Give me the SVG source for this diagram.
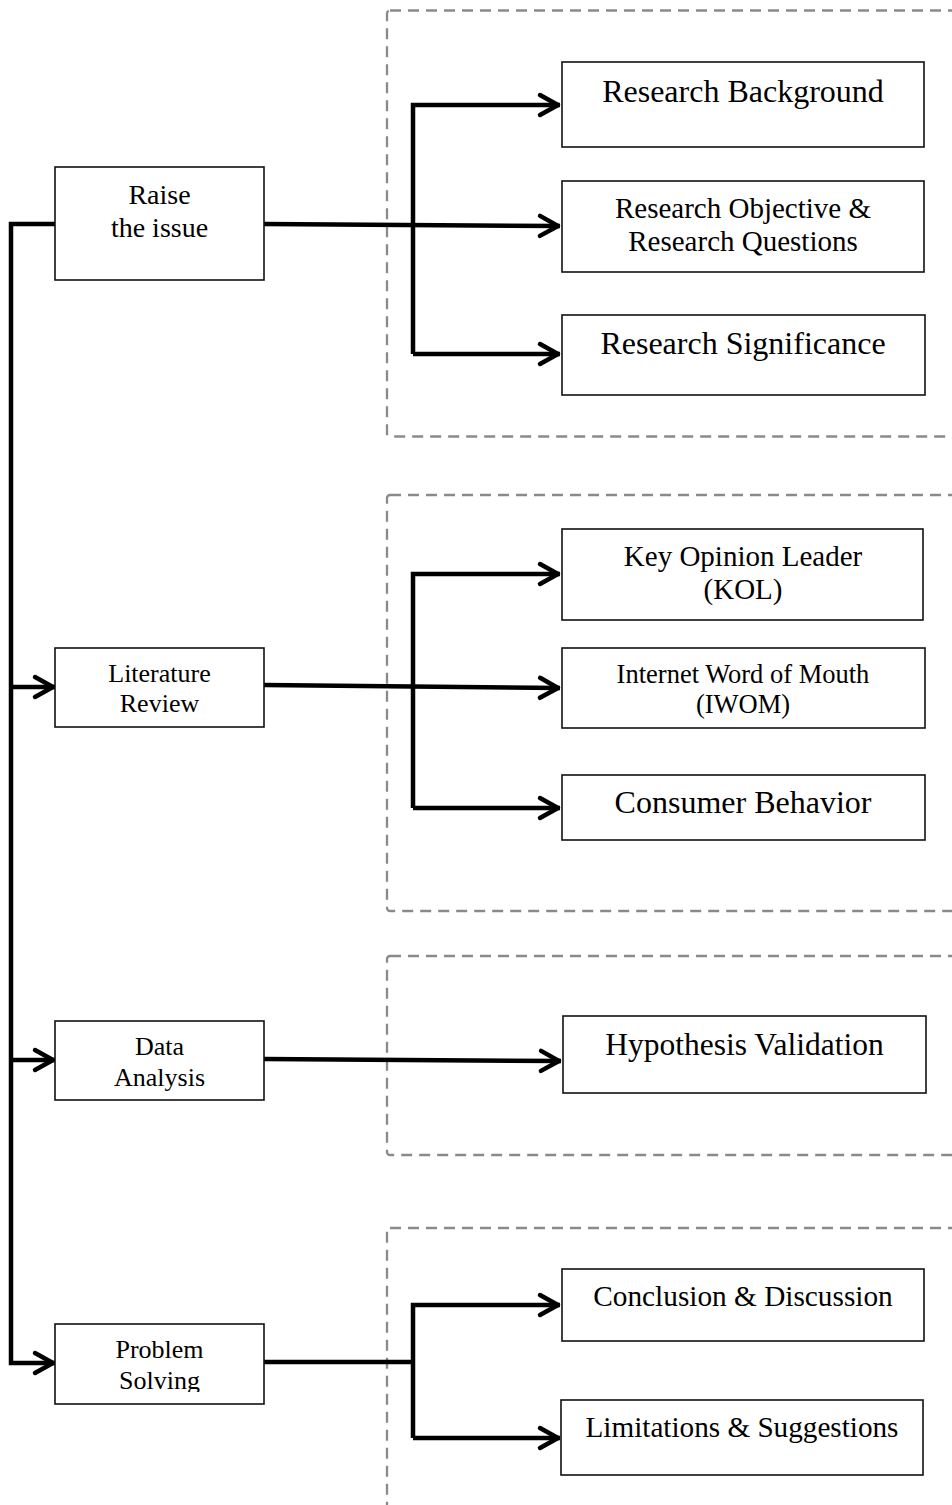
<svg xmlns="http://www.w3.org/2000/svg" width="952" height="1505" viewBox="0 0 952 1505">
<style>
.grp{fill:none;stroke:#8a8a8a;stroke-width:2.3;stroke-dasharray:11 7}
.box{fill:#fff;stroke:#111;stroke-width:1.6}
.con{fill:none;stroke:#000;stroke-width:4.5;stroke-linecap:butt;stroke-linejoin:miter}
.arr{marker-end:url(#chev)}
text{font-family:"Liberation Serif","Times New Roman",serif;fill:#000;text-anchor:middle}
</style>
<defs>
<marker id="chev" markerUnits="userSpaceOnUse" viewBox="-24 -14 28 28" refX="0" refY="0" markerWidth="28" markerHeight="28" orient="auto" overflow="visible">
<path d="M-20,-10 L-2,0 L-20,10" fill="none" stroke="#000" stroke-width="4.5" stroke-linecap="round" stroke-linejoin="round"/>
</marker>
<clipPath id="clipPS"><rect x="55" y="1324" width="209" height="68"/></clipPath>
</defs>

<g id="groups">
<rect class="grp" x="387" y="10.5" width="600" height="426" rx="3"/>
<rect class="grp" x="387" y="495" width="600" height="416" rx="3"/>
<rect class="grp" x="387" y="956" width="600" height="199" rx="3"/>
<rect class="grp" x="387" y="1228" width="600" height="320" rx="3"/>
</g>

<g id="connectors">
<path class="con arr" d="M55,224 H11 V1363 H55"/>
<path class="con arr" d="M11,687 H55"/>
<path class="con arr" d="M11,1060 H55"/>

<path class="con arr" d="M264,224 L560,226"/>
<path class="con arr" d="M413,354 V105 H560"/>
<path class="con arr" d="M413,354 H560"/>

<path class="con arr" d="M264,685 L560,688"/>
<path class="con arr" d="M413,808 V574 H560"/>
<path class="con arr" d="M413,808 H560"/>

<path class="con arr" d="M264,1059 L561,1061"/>

<path class="con" d="M264,1362 H413"/>
<path class="con arr" d="M413,1438 V1305 H560"/>
<path class="con arr" d="M413,1438 H560"/>
</g>

<g id="raise">
<rect class="box" x="55" y="167" width="209" height="113"/>
<text x="159.5" y="204" font-size="28">Raise</text>
<text x="159.5" y="237" font-size="28">the issue</text>
</g>
<g id="literature">
<rect class="box" x="55" y="648" width="209" height="79"/>
<text x="159.5" y="682" font-size="26">Literature</text>
<text x="159.5" y="712" font-size="26">Review</text>
</g>
<g id="data">
<rect class="box" x="55" y="1021" width="209" height="79"/>
<text x="159.5" y="1055" font-size="26">Data</text>
<text x="159.5" y="1086" font-size="26">Analysis</text>
</g>
<g id="problem">
<rect class="box" x="55" y="1324" width="209" height="80"/>
<g clip-path="url(#clipPS)">
<text x="159.5" y="1358" font-size="26">Problem</text>
<text x="159.5" y="1389" font-size="26">Solving</text>
</g>
</g>

<g id="background">
<rect class="box" x="562" y="62" width="362" height="85"/>
<text x="743" y="102" font-size="32">Research Background</text>
</g>
<g id="objective">
<rect class="box" x="562" y="181" width="362" height="91"/>
<text x="743" y="218" font-size="29">Research Objective &amp;</text>
<text x="743" y="251" font-size="29">Research Questions</text>
</g>
<g id="significance">
<rect class="box" x="562" y="315" width="363" height="80"/>
<text x="743" y="354" font-size="32">Research Significance</text>
</g>

<g id="kol">
<rect class="box" x="562" y="529" width="361" height="91"/>
<text x="743" y="566" font-size="29">Key Opinion Leader</text>
<text x="743" y="599" font-size="29">(KOL)</text>
</g>
<g id="iwom">
<rect class="box" x="562" y="648" width="363" height="80"/>
<text x="743" y="683" font-size="26.5">Internet Word of Mouth</text>
<text x="743" y="713" font-size="26.5">(IWOM)</text>
</g>
<g id="consumer">
<rect class="box" x="562" y="775" width="363" height="65"/>
<text x="743" y="813" font-size="32">Consumer Behavior</text>
</g>

<g id="hypothesis">
<rect class="box" x="563" y="1016" width="363" height="77"/>
<text x="744.5" y="1055" font-size="31.5">Hypothesis Validation</text>
</g>

<g id="conclusion">
<rect class="box" x="562" y="1269" width="362" height="72"/>
<text x="743" y="1306" font-size="29.3">Conclusion &amp; Discussion</text>
</g>
<g id="limitations">
<rect class="box" x="561" y="1400" width="362" height="75"/>
<text x="742" y="1437" font-size="29.2">Limitations &amp; Suggestions</text>
</g>
</svg>
